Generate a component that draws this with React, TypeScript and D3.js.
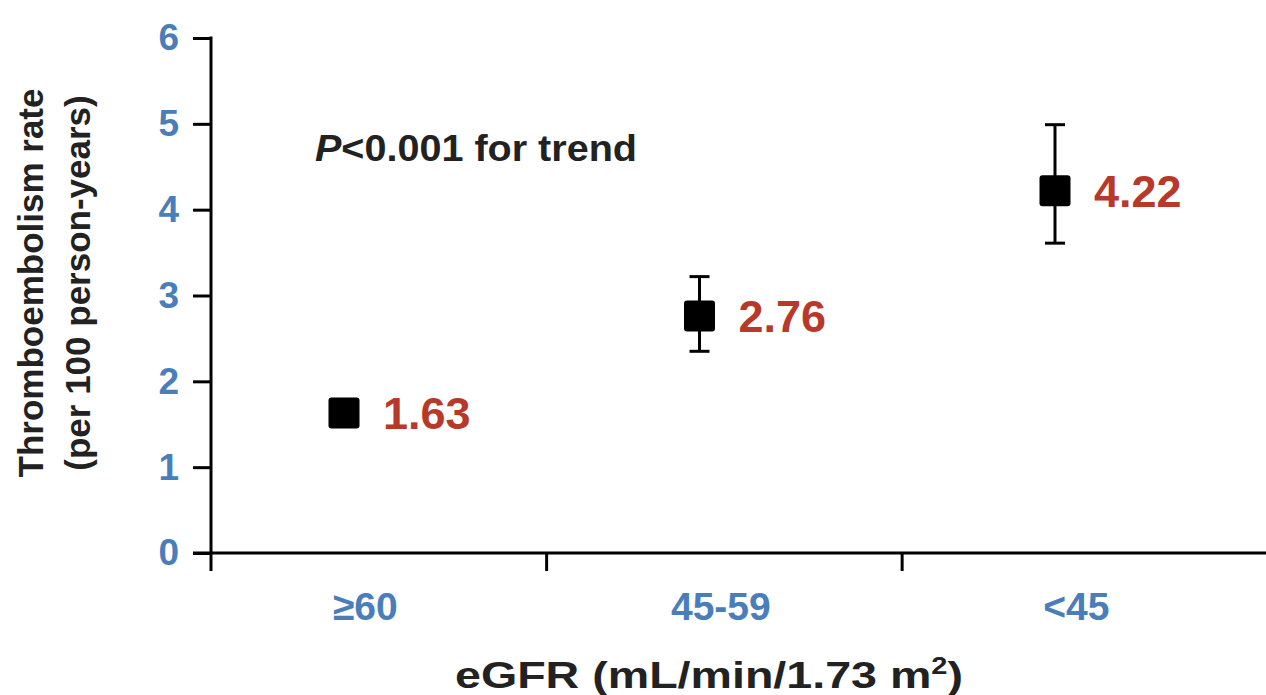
import React, { useEffect, useRef } from "react";
import * as d3 from "d3";

// data
const categories = ["≥60", "45-59", "<45"];
const rates = [1.63, 2.76, 4.22];
const ciLow = [1.5, 2.35, 3.61];
const ciHigh = [1.78, 3.22, 4.99];
const yTicks = [0, 1, 2, 3, 4, 5, 6];

const BLUE = "#4a7ebb";
const RED = "#b8392a";
const FONT = "'Liberation Sans', Arial, sans-serif";

export default function App() {
  const ref = useRef<SVGSVGElement>(null);

  useEffect(() => {
    const svg = d3.select(ref.current);
    svg.selectAll("*").remove();

    const left = 211;
    const bottom = 553;

    const y = d3.scaleLinear().domain([0, 6]).range([bottom, 38]);
    const x = d3.scalePoint<string>().domain(categories).range([344, 1055]);
    const step = x.step();

    const g = svg.append("g");

    // y axis
    const yAxis = d3.axisLeft(y).tickValues(yTicks).tickSize(18).tickPadding(14).tickFormat(d3.format("d"));
    const yg = g.append("g").attr("transform", `translate(${left},0)`).call(yAxis);
    yg.select(".domain").remove();
    yg.selectAll("line").attr("stroke", "#000").attr("stroke-width", 3);
    yg.selectAll("text")
      .attr("fill", BLUE)
      .attr("font-family", FONT)
      .attr("font-weight", "bold")
      .attr("font-size", 37);
    g.append("line")
      .attr("x1", left).attr("x2", left)
      .attr("y1", y(6) - 1.5).attr("y2", bottom + 18)
      .attr("stroke", "#000").attr("stroke-width", 3);

    // x axis
    g.append("line")
      .attr("x1", left - 18).attr("x2", 1266)
      .attr("y1", bottom).attr("y2", bottom)
      .attr("stroke", "#000").attr("stroke-width", 3);
    const seps = categories.slice(0, -1).map(c => (x(c) as number) + step * 0.57);
    g.selectAll(".sep").data(seps).enter().append("line")
      .attr("x1", d => d).attr("x2", d => d)
      .attr("y1", bottom).attr("y2", bottom + 18)
      .attr("stroke", "#000").attr("stroke-width", 3);

    g.selectAll(".xlab").data(categories).enter().append("text")
      .attr("x", d => (x(d) as number) + step * 0.06)
      .attr("y", 620)
      .attr("text-anchor", "middle")
      .attr("fill", BLUE)
      .attr("font-family", FONT)
      .attr("font-weight", "bold")
      .attr("font-size", 39)
      .text(d => d);

    // error bars
    const pts = categories.map((c, i) => ({ c, v: rates[i], lo: ciLow[i], hi: ciHigh[i] }));
    const eb = g.selectAll(".eb").data(pts).enter().append("g");
    eb.append("line")
      .attr("x1", d => x(d.c) as number).attr("x2", d => x(d.c) as number)
      .attr("y1", d => y(d.hi)).attr("y2", d => y(d.lo))
      .attr("stroke", "#000").attr("stroke-width", 3);
    eb.append("line")
      .attr("x1", d => (x(d.c) as number) - 10).attr("x2", d => (x(d.c) as number) + 10)
      .attr("y1", d => y(d.hi)).attr("y2", d => y(d.hi))
      .attr("stroke", "#000").attr("stroke-width", 3);
    eb.append("line")
      .attr("x1", d => (x(d.c) as number) - 10).attr("x2", d => (x(d.c) as number) + 10)
      .attr("y1", d => y(d.lo)).attr("y2", d => y(d.lo))
      .attr("stroke", "#000").attr("stroke-width", 3);

    // markers
    g.selectAll(".pt").data(pts).enter().append("rect")
      .attr("x", d => (x(d.c) as number) - 15.5)
      .attr("y", d => y(d.v) - 15.5)
      .attr("width", 31).attr("height", 31)
      .attr("rx", 3)
      .attr("fill", "#000");

    // value labels
    g.selectAll(".val").data(pts).enter().append("text")
      .attr("x", d => (x(d.c) as number) + 39)
      .attr("y", d => y(d.v) + 16)
      .attr("fill", RED)
      .attr("font-family", FONT)
      .attr("font-weight", "bold")
      .attr("font-size", 45)
      .text(d => d.v.toFixed(2));

    // p value
    const p = g.append("text")
      .attr("x", 315).attr("y", 161)
      .attr("fill", "#222")
      .attr("font-family", FONT)
      .attr("font-weight", "bold")
      .attr("font-size", 36)
      .attr("textLength", 322)
      .attr("lengthAdjust", "spacingAndGlyphs");
    p.append("tspan").attr("font-style", "italic").text("P");
    p.append("tspan").text("<0.001 for trend");

    // axis titles
    const xt = g.append("text")
      .attr("x", 455).attr("y", 688)
      .attr("fill", "#222")
      .attr("font-family", FONT)
      .attr("font-weight", "bold")
      .attr("font-size", 37)
      .attr("textLength", 508)
      .attr("lengthAdjust", "spacingAndGlyphs");
    xt.append("tspan").text("eGFR (mL/min/1.73 m");
    xt.append("tspan").attr("font-size", 23).attr("dy", -14).text("2");
    xt.append("tspan").attr("dy", 14).text(")");

    const yt = g.append("text")
      .attr("transform", "translate(0,283) rotate(-90)")
      .attr("text-anchor", "middle")
      .attr("fill", "#222")
      .attr("font-family", FONT)
      .attr("font-weight", "bold")
      .attr("font-size", 35);
    yt.append("tspan").attr("x", 0).attr("y", 43).text("Thromboembolism rate");
    yt.append("tspan").attr("x", 0).attr("y", 90).text("(per 100 person-years)");
  }, []);

  return (
    <div style={{ position: "fixed", left: 0, top: 0 }}>
      <svg ref={ref} width={1266} height={695} style={{ display: "block", background: "#fff" }} />
    </div>
  );
}
